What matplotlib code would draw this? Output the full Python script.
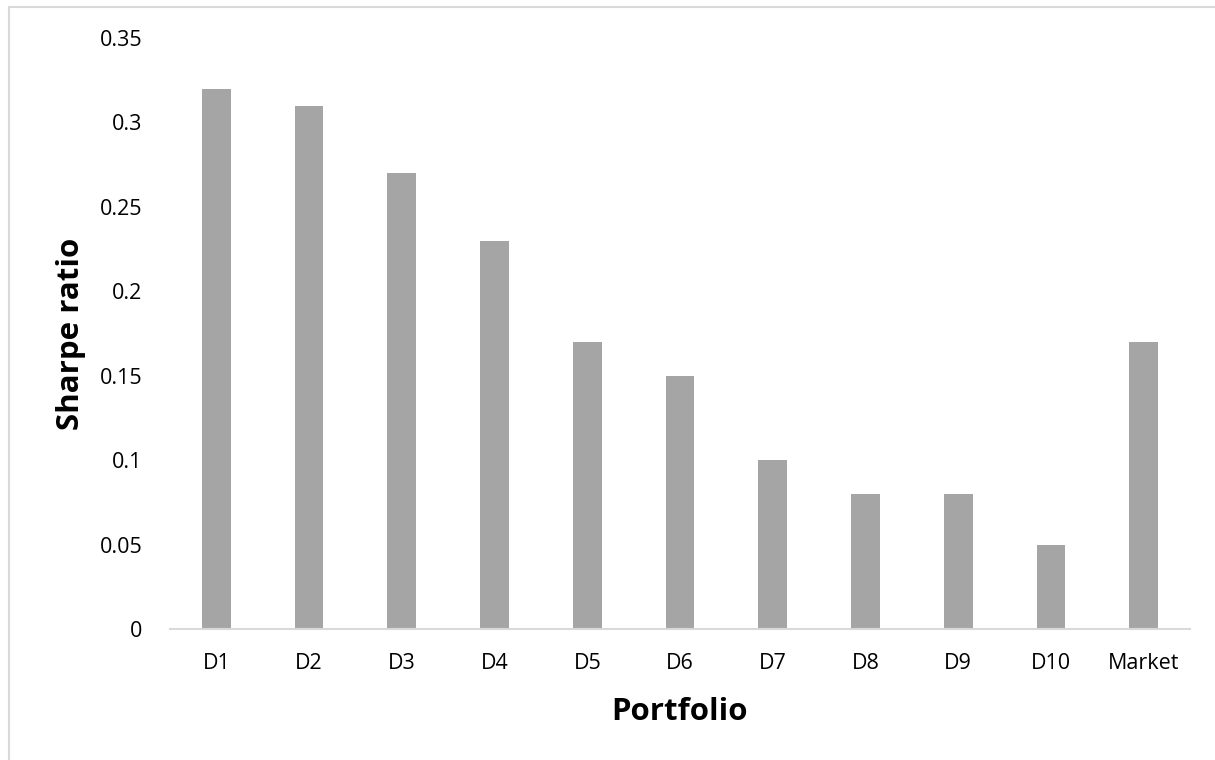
import matplotlib.pyplot as plt
from matplotlib.lines import Line2D

# Sharpe ratio by portfolio
portfolios = ['D1', 'D2', 'D3', 'D4', 'D5', 'D6', 'D7', 'D8', 'D9', 'D10', 'Market']
sharpe = [0.32, 0.31, 0.27, 0.23, 0.17, 0.15, 0.10, 0.08, 0.08, 0.05, 0.17]
y_ticks = [0, 0.05, 0.1, 0.15, 0.2, 0.25, 0.3, 0.35]
y_tick_labels = ['0', '0.05', '0.1', '0.15', '0.2', '0.25', '0.3', '0.35']

plt.rcParams['font.family'] = ['Open Sans', 'DejaVu Sans']

fig = plt.figure(figsize=(12.15, 7.6), dpi=100)
ax = fig.add_axes([170 / 1215, 1 - 629 / 760, 1020 / 1215, (629 - 38) / 760])

x = range(len(portfolios))
ax.bar(x, sharpe, width=0.31, color='#A5A5A5')

ax.set_xlim(-0.5, len(portfolios) - 0.5)
ax.set_ylim(0, 0.35)
ax.set_yticks(y_ticks)
ax.set_yticklabels(y_tick_labels)
ax.set_xticks(list(x))
ax.set_xticklabels(portfolios)
ax.tick_params(axis='both', length=0, labelsize=15.5, colors='black')
ax.tick_params(axis='y', pad=20)
ax.tick_params(axis='x', pad=17)

for side in ['top', 'right', 'left']:
    ax.spines[side].set_visible(False)
ax.spines['bottom'].set_color('#D9D9D9')
ax.spines['bottom'].set_linewidth(1.5)

ax.set_xlabel('Portfolio', fontsize=22.5, fontweight='bold', labelpad=17)
ax.set_ylabel('Sharpe ratio', fontsize=22.5, fontweight='bold', labelpad=10)

# chart area border (only left and top visible in the crop)
fig.add_artist(Line2D([9 / 1215, 9 / 1215], [0, 1 - 7 / 760], transform=fig.transFigure,
                      color='#D9D9D9', linewidth=1.5))
fig.add_artist(Line2D([9 / 1215, 1], [1 - 7 / 760, 1 - 7 / 760], transform=fig.transFigure,
                      color='#D9D9D9', linewidth=1.5))

fig.savefig('out.png', dpi=100)
